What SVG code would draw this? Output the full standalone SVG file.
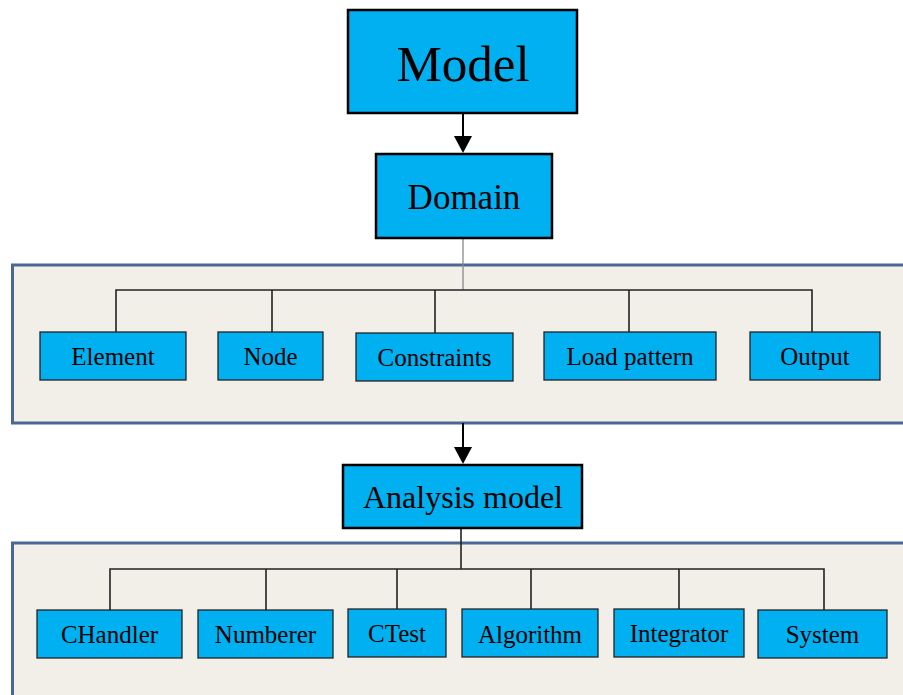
<svg xmlns="http://www.w3.org/2000/svg" width="903" height="695" viewBox="0 0 903 695">
<defs>
<style>
.cont{fill:#f2efe9;stroke:#4a6896;stroke-width:3}
.big{fill:#00b0f0;stroke:#000;stroke-width:2.5}
.box{fill:#00b0f0;stroke:#222;stroke-width:1.3}
.t{font-family:"Liberation Serif","Times New Roman",serif;fill:#000;text-anchor:middle}
.s{font-size:25px}
.line{fill:none;stroke:#222;stroke-width:1.6}
.arrow{fill:none;stroke:#000;stroke-width:2}
</style>
<marker id="ah" markerWidth="18" markerHeight="17" refX="9" refY="17" orient="auto" markerUnits="userSpaceOnUse" viewBox="0 0 18 17">
<path d="M0,0 L18,0 L9,17 Z" fill="#000" transform="rotate(0)"/>
</marker>
</defs>
<rect width="903" height="695" fill="#fff"/>
<rect id="domainContainer" class="cont" x="12.5" y="265" width="900" height="158"/>
<rect id="analysisContainer" class="cont" x="12.5" y="543" width="900" height="160"/>
<g id="connectors">
<line x1="463" y1="113" x2="463" y2="136" class="arrow"/>
<path d="M454,136 L472,136 L463,153 Z" fill="#000"/>
<line x1="463" y1="238" x2="463" y2="290" stroke="#888" stroke-width="1.3"/>
<path class="line" d="M116,332 V290 H812 V332 M272,290 V332 M435,290 V333 M629,290 V332"/>
<line x1="463" y1="423" x2="463" y2="447" class="arrow"/>
<path d="M454,447 L472,447 L463,464 Z" fill="#000"/>
<line x1="461" y1="528" x2="461" y2="569" class="line"/>
<path class="line" d="M110,610 V569 H824 V610 M266,569 V610 M397,569 V609 M531,569 V609 M679,569 V609"/>
</g>
<g id="model"><rect class="big" x="348" y="10" width="229" height="103"/><text class="t" x="463" y="81" font-size="51">Model</text></g>
<g id="domain"><rect class="big" x="376" y="154" width="176" height="84"/><text class="t" x="464" y="209" font-size="35">Domain</text></g>
<g id="element"><rect class="box" x="40" y="332" width="146" height="48"/><text class="t s" x="113" y="365">Element</text></g>
<g id="node"><rect class="box" x="218" y="332" width="105" height="48"/><text class="t s" x="270.5" y="365">Node</text></g>
<g id="constraints"><rect class="box" x="356" y="333" width="157" height="48"/><text class="t s" x="434.5" y="366">Constraints</text></g>
<g id="loadpattern"><rect class="box" x="544" y="332" width="172" height="48"/><text class="t s" x="630" y="365">Load pattern</text></g>
<g id="output"><rect class="box" x="750" y="332" width="130" height="48"/><text class="t s" x="815" y="365">Output</text></g>
<g id="analysismodel"><rect class="big" x="343" y="465" width="239" height="63"/><text class="t" x="463" y="508" font-size="32">Analysis model</text></g>
<g id="chandler"><rect class="box" x="37" y="610" width="145" height="48"/><text class="t s" x="109.5" y="643">CHandler</text></g>
<g id="numberer"><rect class="box" x="198" y="610" width="135" height="48"/><text class="t s" x="265.5" y="643">Numberer</text></g>
<g id="ctest"><rect class="box" x="348" y="609" width="98" height="48"/><text class="t s" x="397" y="642">CTest</text></g>
<g id="algorithm"><rect class="box" x="462" y="609" width="136" height="48"/><text class="t s" x="530" y="643">Algorithm</text></g>
<g id="integrator"><rect class="box" x="614" y="609" width="130" height="48"/><text class="t s" x="679" y="642">Integrator</text></g>
<g id="system"><rect class="box" x="758" y="610" width="129" height="48"/><text class="t s" x="822.5" y="643">System</text></g>
</svg>
